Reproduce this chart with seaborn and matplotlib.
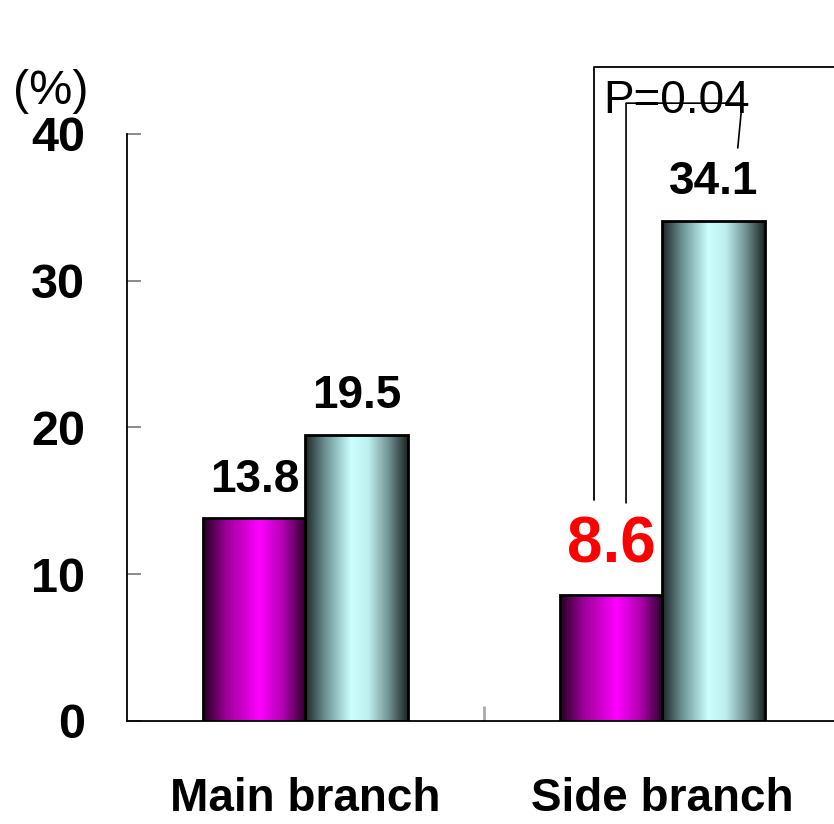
import numpy as np
import pandas as pd
import matplotlib
matplotlib.use("Agg")
import matplotlib.pyplot as plt
from matplotlib.colors import LinearSegmentedColormap
import seaborn as sns

# Values
branches = ["Main branch", "Side branch"]
groups = ["A", "B"]
values_a = [13.8, 8.6]
values_b = [19.5, 34.1]
y_ticks = [0, 10, 20, 30, 40]
p_label = "P=0.04"

df = pd.DataFrame({
    "branch": branches * 2,
    "group": [groups[0]] * 2 + [groups[1]] * 2,
    "value": values_a + values_b,
})

sns.set_theme(style="white")
plt.rcParams["font.family"] = ["Liberation Sans", "DejaVu Sans"]
plt.rcParams["text.color"] = "black"
plt.rcParams["xtick.labelcolor"] = "black"
plt.rcParams["ytick.labelcolor"] = "black"

fig = plt.figure(figsize=(8.34, 8.24), dpi=100)
ax = fig.add_axes([0.1523, 0.125, 0.856, 0.7124])

sns.barplot(data=df, x="branch", y="value", hue="group", order=branches,
            hue_order=groups, width=0.572, gap=0, ax=ax, legend=False,
            errorbar=None, saturation=1)

cmap_mag = LinearSegmentedColormap.from_list("mag", [
    (0.0, "#220020"), (0.22, "#9a0096"), (0.55, "#ff00ff"),
    (0.78, "#b000b0"), (1.0, "#280028")])
cmap_cyan = LinearSegmentedColormap.from_list("cyan", [
    (0.0, "#1c2626"), (0.2, "#6e9494"), (0.45, "#ccffff"),
    (0.62, "#bfeeee"), (0.82, "#6f8f8f"), (1.0, "#1c2424")])

grad = np.linspace(0, 1, 256).reshape(1, -1)
patches = list(ax.patches)
for i, p in enumerate(patches):
    cmap = cmap_mag if i < len(branches) else cmap_cyan
    x0, y0 = p.get_x(), p.get_y()
    w, h = p.get_width(), p.get_height()
    im = ax.imshow(grad, cmap=cmap, aspect="auto",
                   extent=(x0, x0 + w, y0, y0 + h), zorder=2,
                   interpolation="bilinear")
    im.set_clip_path(p)
    p.set_facecolor("none")
    p.set_edgecolor("black")
    p.set_linewidth(2.0)
    p.set_zorder(3)

ax.set_xlim(-0.5, 1.5)
ax.set_ylim(0, 40)
ax.set_xlabel("")
ax.set_ylabel("")

# Axes styling
for side in ["top", "right"]:
    ax.spines[side].set_visible(False)
for side in ["left", "bottom"]:
    ax.spines[side].set_color("black")
    ax.spines[side].set_linewidth(1.3)

ax.set_yticks(y_ticks)
ax.set_yticklabels([str(t) for t in y_ticks], fontsize=35, fontweight="bold",
                   color="black")
ax.tick_params(axis="y", direction="in", length=10, width=1.2,
               color="#777777", pad=30, left=True)
ax.set_xticks(range(len(branches)))
ax.set_xticklabels(branches, fontsize=33, fontweight="bold", color="black")
ax.tick_params(axis="x", which="major", length=0, pad=40)
ax.set_xticks([0.5], minor=True)
ax.tick_params(axis="x", which="minor", direction="in", length=11,
               width=2, color="#aaaaaa", bottom=True)

# Value labels
for i, v in enumerate(values_a):
    p = patches[i]
    cx = p.get_x() + p.get_width() / 2
    if i == 1:
        ax.annotate(f"{v}", (cx, v), xytext=(0, 23), textcoords="offset points",
                    ha="center", va="baseline", fontsize=46,
                    fontweight="bold", color="#ff0000")
    else:
        ax.annotate(f"{v}", (cx, v), xytext=(0, 19), textcoords="offset points",
                    ha="center", va="baseline", fontsize=33,
                    fontweight="bold", color="black")
for i, v in enumerate(values_b):
    p = patches[len(branches) + i]
    cx = p.get_x() + p.get_width() / 2
    ax.annotate(f"{v}", (cx, v), xytext=(0, 19), textcoords="offset points",
                ha="center", va="baseline", fontsize=33,
                fontweight="bold", color="black")

# Significance bracket
ax.plot([0.808, 0.808, 1.6], [15.06, 44.57, 44.57], color="black", lw=1.3,
        clip_on=False, zorder=4)
ax.plot([0.898, 0.898, 1.223, 1.211], [14.86, 42.1, 42.1, 39.05],
        color="black", lw=1.2, clip_on=False, zorder=4)
ax.text(0.833, 41.4, p_label, fontsize=33, ha="left", va="baseline",
        color="black", clip_on=False, zorder=3)

fig.text(51 / 834, 1 - 91 / 824, "(%)", fontsize=35, ha="center",
         va="center", color="black")

fig.savefig("out.png", dpi=100, facecolor="white")
